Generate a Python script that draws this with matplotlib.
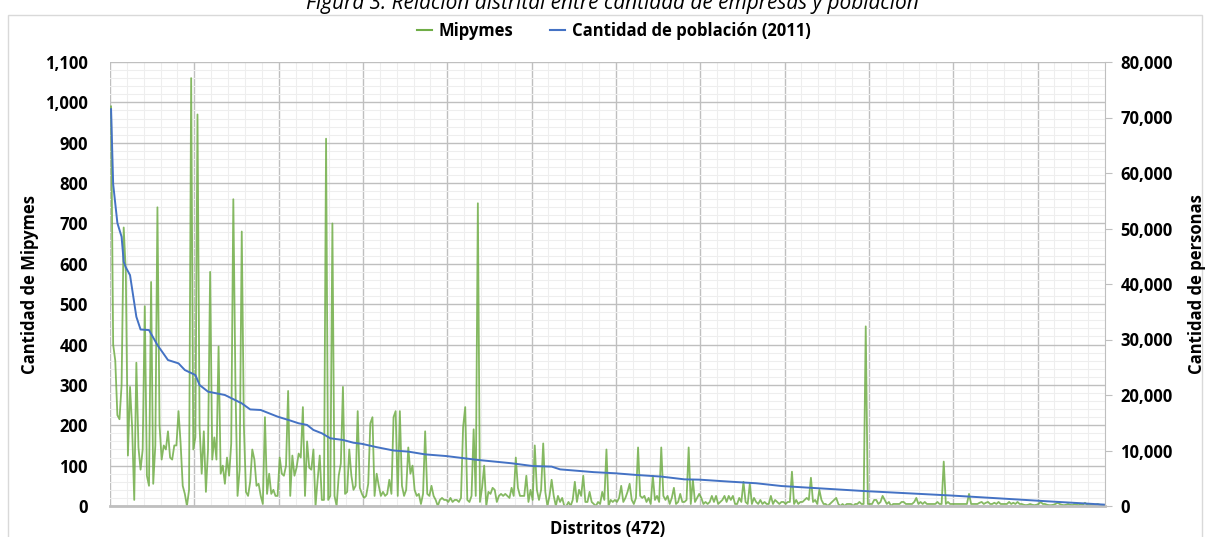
import matplotlib
matplotlib.use('Agg')
import matplotlib.pyplot as plt
import numpy as np
from matplotlib.lines import Line2D
from matplotlib.patches import Rectangle
from matplotlib.ticker import FuncFormatter, MultipleLocator

plt.rcParams['font.family'] = ['Open Sans', 'DejaVu Sans']

# Mipymes por distrito (472 distritos, ordenados por población)
mipymes = [
    990, 400, 360, 225, 215, 300, 690, 580, 125, 295,
    195, 15, 355, 145, 90, 140, 495, 75, 50, 555,
    55, 150, 740, 200, 115, 150, 140, 185, 120, 115,
    150, 150, 235, 155, 50, 30, 0, 40, 1060, 140,
    170, 970, 195, 80, 185, 35, 140, 580, 115, 170,
    115, 395, 80, 100, 55, 120, 75, 155, 760, 300,
    25, 90, 680, 200, 35, 25, 60, 140, 115, 50,
    55, 25, 5, 220, 30, 80, 30, 40, 25,
    # 79 - 158
    25, 120, 80, 75, 100, 285, 25, 125, 75, 95,
    130, 120, 245, 25, 160, 95, 90, 140, 0, 65,
    125, 15, 15, 910, 15, 25, 700, 25, 0, 75,
    105, 295, 30, 35, 140, 75, 40, 50, 235, 45,
    30, 20, 25, 55, 205, 220, 25, 80, 50, 25,
    35, 25, 30, 65, 30, 220, 235, 25, 235, 50,
    25, 40, 145, 80, 100, 40, 25, 30, 5, 30,
    185, 30, 25, 50, 25, 15, 0, 15, 20, 15,
    # 159 - 238
    15, 10, 20, 10, 15, 15, 10, 20, 195, 245,
    15, 10, 25, 190, 25, 750, 10, 45, 100, 0,
    35, 30, 45, 40, 10, 25, 30, 25, 30, 25,
    20, 45, 25, 120, 45, 25, 25, 25, 75, 10,
    40, 15, 150, 40, 15, 40, 155, 35, 0, 25,
    65, 25, 0, 25, 10, 20, 0, 0, 10, 0,
    15, 60, 10, 40, 25, 75, 10, 10, 35, 10,
    5, 0, 10, 5, 35, 15, 140, 0, 15, 10,
    # 239 - 318
    15, 10, 20, 50, 10, 20, 35, 55, 15, 5,
    20, 145, 25, 20, 25, 10, 20, 5, 75, 15,
    25, 10, 145, 25, 15, 25, 5, 20, 45, 5,
    10, 30, 10, 10, 15, 145, 5, 65, 10, 20,
    30, 20, 5, 10, 5, 10, 25, 10, 25, 5,
    10, 15, 25, 10, 25, 15, 25, 5, 5, 20,
    10, 60, 10, 5, 55, 5, 20, 10, 5, 15,
    5, 10, 5, 5, 25, 5, 15, 10, 5, 10,
    # 319 - 398
    10, 5, 10, 10, 85, 5, 15, 5, 10, 10,
    15, 20, 15, 70, 10, 15, 5, 40, 15, 5,
    5, 0, 5, 10, 15, 20, 5, 0, 5, 0,
    5, 5, 5, 0, 5, 5, 10, 5, 5, 445,
    5, 5, 5, 15, 15, 5, 10, 25, 15, 5,
    10, 0, 5, 5, 5, 5, 10, 10, 5, 5,
    5, 5, 10, 20, 5, 10, 5, 10, 5, 5,
    5, 5, 5, 10, 5, 5, 110, 5, 10, 5,
    # 399 - 471
    5, 5, 5, 5, 5, 5, 5, 5, 30, 5,
    5, 5, 5, 8, 10, 5, 8, 10, 5, 5,
    8, 5, 10, 5, 5, 5, 5, 10, 5, 8,
    5, 10, 5, 5, 3, 2, 3, 5, 3, 2,
    3, 5, 10, 5, 5, 3, 2, 2, 3, 5,
    8, 5, 3, 2, 3, 5, 3, 2, 5, 3,
    2, 5, 3, 8, 3, 2, 3, 2, 3, 5,
    3, 2, 2,
]

# Población 2011, lecturas de la curva (posición del distrito, personas)
pop_rank = [0, 1, 3, 5, 6, 7, 9, 12, 14, 18, 22, 27, 32, 35, 40, 42, 46, 54,
            62, 66, 71, 79, 85, 89, 93, 96, 100, 104, 110, 115, 119, 126, 134,
            141, 149, 159, 174, 190, 200, 209, 213, 229, 239, 249, 261, 272,
            279, 293, 306, 318, 357, 398, 429, 444, 460, 471]
pop_value = [71500, 58000, 51000, 48500, 44000, 43000, 41600, 34100, 31800,
             31700, 29000, 26300, 25700, 24500, 23600, 21800, 20600, 20000,
             18500, 17400, 17300, 16100, 15400, 14900, 14600, 13700, 13100,
             12200, 11900, 11400, 11200, 10600, 10000, 9800, 9300, 9000, 8300,
             7700, 7200, 7100, 6600, 6100, 5900, 5600, 5300, 4800, 4750, 4400,
             4100, 3600, 2700, 1900, 1200, 850, 500, 250]

green = '#70AD47'
blue = '#4472C4'
grid_major = '#BFBFBF'
grid_minor = '#EEEEEE'

fig = plt.figure(figsize=(12.08, 5.37), dpi=100)
ax = fig.add_axes([110 / 1208, 1 - 506 / 537, 995 / 1208, 444 / 537])
ax2 = ax.twinx()

x = np.arange(len(mipymes))
ax.plot(x, mipymes, color=green, lw=1.3, alpha=0.85)
ax2.plot(pop_rank, pop_value, color=blue, lw=1.4)

ax.set_xlim(-0.5, len(mipymes) - 0.5)
ax.set_ylim(0, 1100)
ax2.set_ylim(0, 80000)

ax.set_yticks(np.arange(0, 1101, 100))
ax.yaxis.set_minor_locator(MultipleLocator(20))
ax.set_xticks(np.arange(-0.5, len(mipymes), 40))
ax.set_xticks(np.arange(-0.5, len(mipymes), 8), minor=True)
ax.yaxis.set_major_formatter(FuncFormatter(lambda v, p: f'{int(v):,}'))
ax.tick_params(axis='x', which='both', length=0, labelbottom=False)
ax.tick_params(axis='y', which='both', length=0, labelsize=12, pad=16)
for lab in ax.get_yticklabels():
    lab.set_fontweight('bold')

ax.set_axisbelow(True)
ax.grid(which='major', color=grid_major, lw=1.0)
ax.grid(which='minor', color=grid_minor, lw=0.8)

for s in ['top', 'left', 'right']:
    ax.spines[s].set_visible(False)
ax.spines['bottom'].set_color(grid_major)
ax.spines['bottom'].set_linewidth(2)

ax2.set_yticks(np.arange(0, 80001, 10000))
ax2.yaxis.set_major_formatter(FuncFormatter(lambda v, p: f'{int(v):,}'))
ax2.tick_params(axis='y', length=5, color=grid_major, labelsize=12, pad=6)
for lab in ax2.get_yticklabels():
    lab.set_fontweight('bold')
for s in ['top', 'left', 'bottom']:
    ax2.spines[s].set_visible(False)
ax2.spines['right'].set_color(grid_major)

fig.text(30 / 1208, 1 - 284 / 537, 'Cantidad de Mipymes', rotation=90,
         ha='center', va='center', fontsize=12, fontweight='bold')
fig.text(1197 / 1208, 1 - 284 / 537, 'Cantidad de personas', rotation=90,
         ha='center', va='center', fontsize=12, fontweight='bold')
fig.text(608 / 1208, 1 - 529 / 537, 'Distritos (472)', ha='center',
         va='center', fontsize=12, fontweight='bold')

fig.text(612 / 1208, 1 - 9 / 537,
         'Figura 3. Relación distrital entre cantidad de empresas y población',
         ha='center', va='baseline', fontsize=15, style='italic')

handles = [Line2D([], [], color=green, lw=1.5), Line2D([], [], color=blue, lw=1.5)]
fig.legend(handles, ['Mipymes', 'Cantidad de población (2011)'], loc='center',
           bbox_to_anchor=(614 / 1208, 1 - 31 / 537), ncol=2, frameon=False,
           handlelength=0.9, handletextpad=0.4, columnspacing=2.2,
           prop={'weight': 'bold', 'size': 12})

fig.patches.append(Rectangle((8 / 1208, -0.05), 1194 / 1208, 1 - 15 / 537 + 0.05,
                             transform=fig.transFigure, fill=False,
                             ec='#D9D9D9', lw=1))

fig.savefig('out.png', dpi=100)
